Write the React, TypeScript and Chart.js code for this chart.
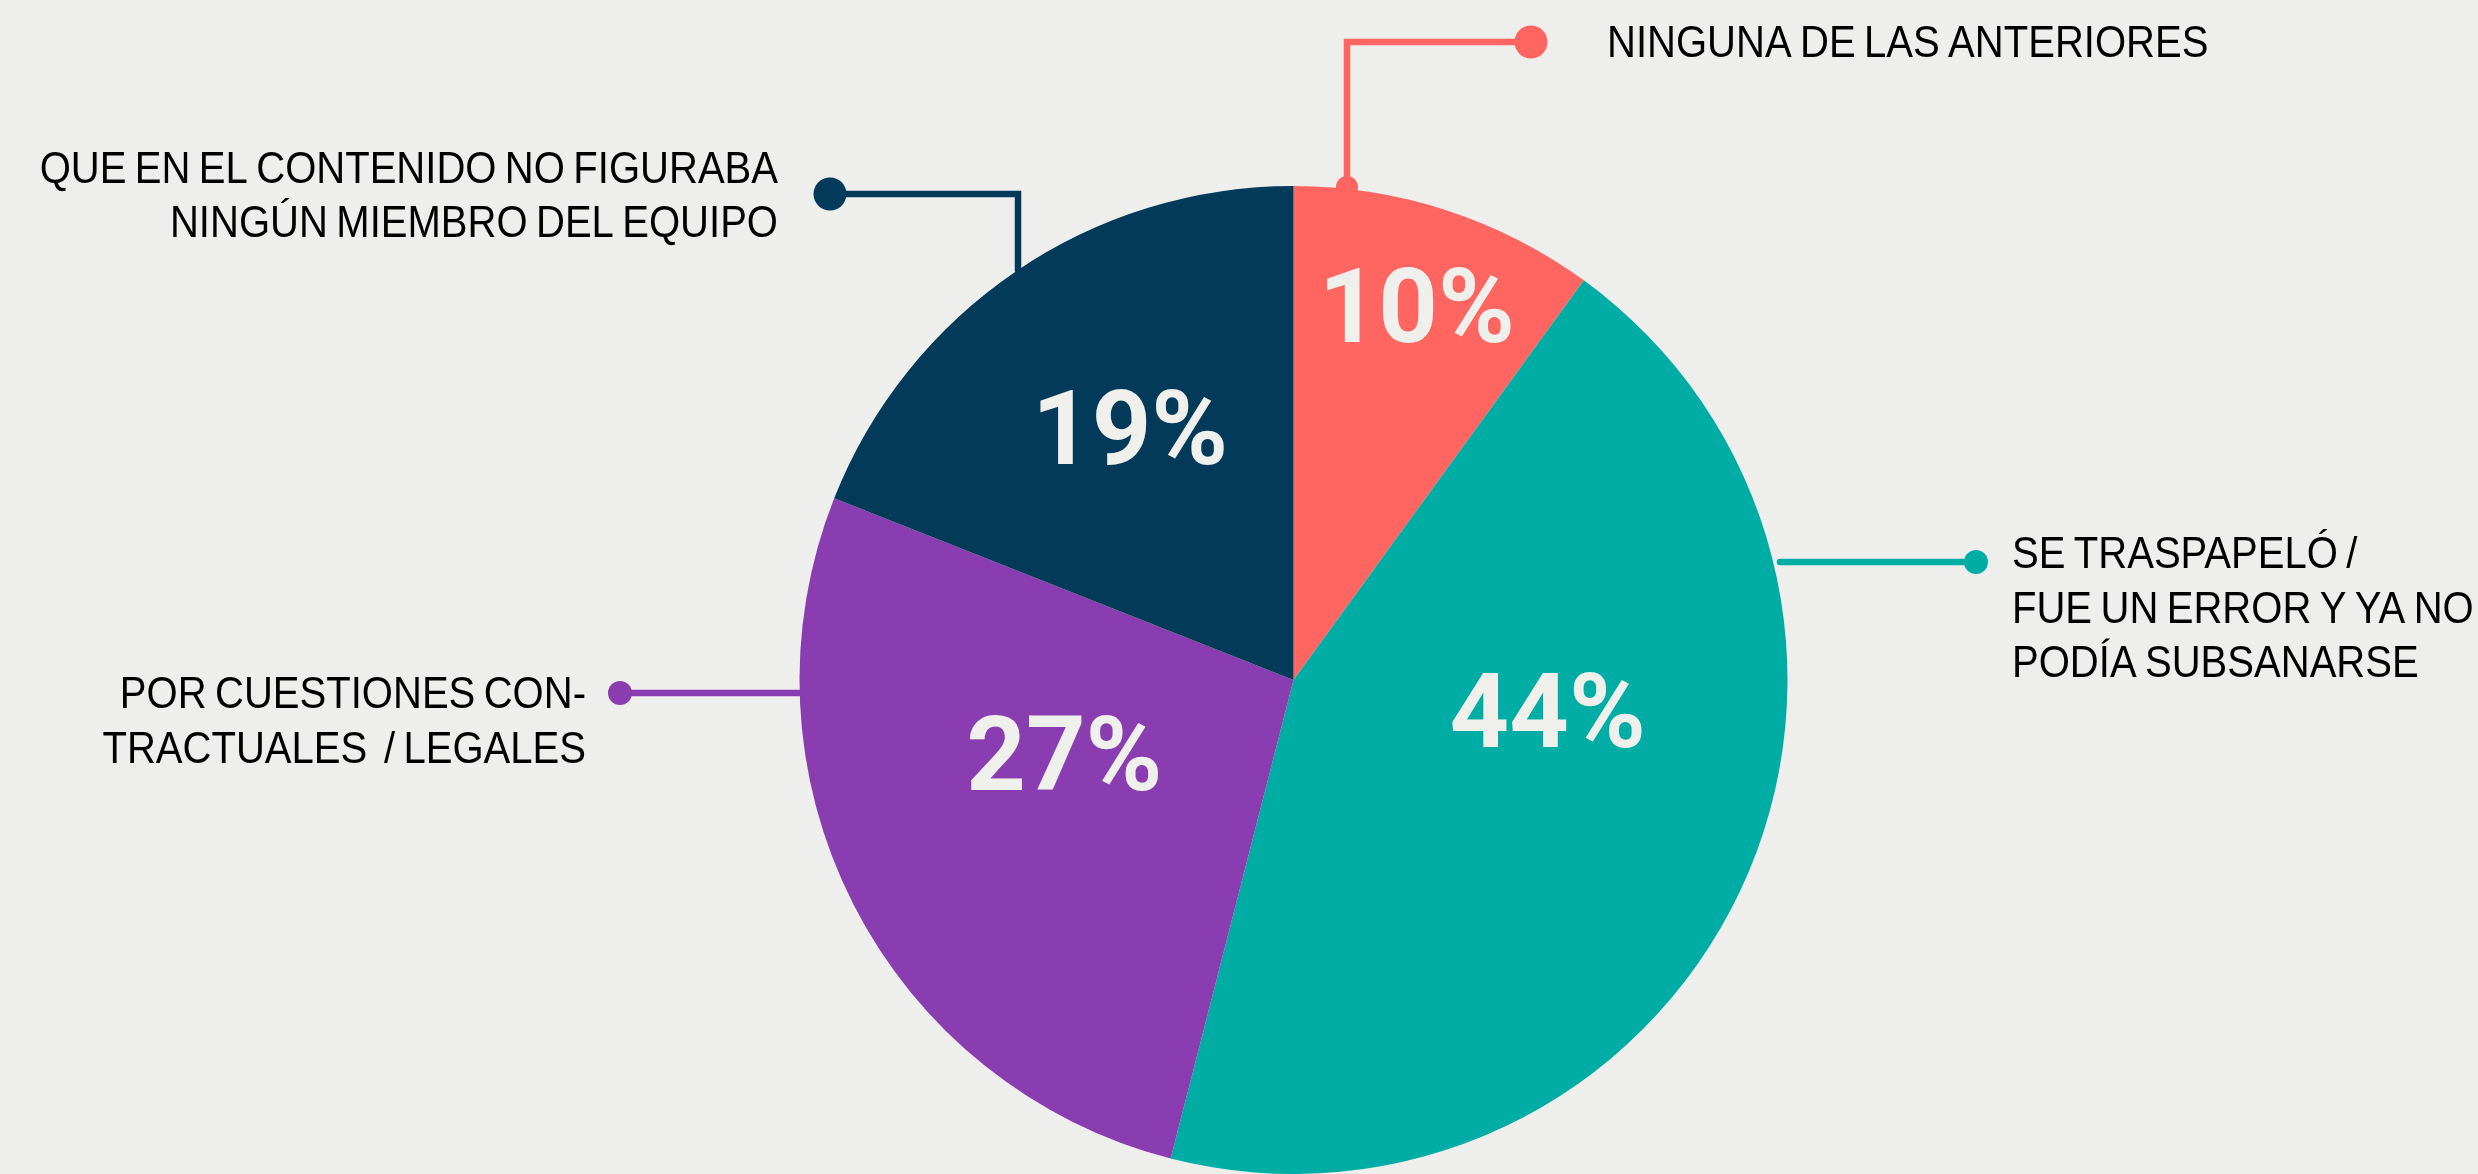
import React, { useEffect, useRef } from "react";
import { Chart, registerables } from "chart.js";

Chart.register(...registerables);

// ---- data ----
const categories = [
  "NINGUNA DE LAS ANTERIORES",
  "SE TRASPAPELÓ / FUE UN ERROR Y YA NO PODÍA SUBSANARSE",
  "POR CUESTIONES CONTRACTUALES / LEGALES",
  "QUE EN EL CONTENIDO NO FIGURABA NINGÚN MIEMBRO DEL EQUIPO",
];
const values = [10, 44, 27, 19];
const labelLines = [
  ["NINGUNA DE LAS ANTERIORES"],
  ["SE TRASPAPELÓ /", "FUE UN ERROR Y YA NO", "PODÍA SUBSANARSE"],
  ["POR CUESTIONES CON-", "TRACTUALES  / LEGALES"],
  ["QUE EN EL CONTENIDO NO FIGURABA", "NINGÚN MIEMBRO DEL EQUIPO"],
];
const colors = ["#FF6661", "#00ADA5", "#8A3DB0", "#033A5A"];

// ---- layout (styles/positions, not data) ----
const BG = "#EEEEEC";
const PCT_COLOR = "#EFEFEC";
// where inside each slice the percentage sits: fraction of slice angle, fraction of radius
const pctAngleFrac = [0.505, 0.383, 0.595, 0.52];
const pctRadiusFrac = [0.8, 0.518, 0.487, 0.61];

// leader lines & outside label placement, in canvas pixels
const leaders = [
  { pts: [[1347, 187], [1347, 42], [1531, 42]], startDot: 11, endDot: 16.5, textX: 1607, align: "left", baselines: [57] },
  { pts: [[1780, 562], [1976, 562]], startDot: 0, endDot: 12, textX: 2012, align: "left", baselines: [568, 623, 677] },
  { pts: [[799, 693], [620, 693]], startDot: 0, endDot: 12, textX: 586, align: "right", baselines: [708, 763] },
  { pts: [[1018, 270], [1018, 194], [830, 194]], startDot: 0, endDot: 16.5, textX: 778, align: "right", baselines: [183, 237] },
];

const annotationPlugin = {
  id: "annotations",
  afterDraw(chart: any) {
    const ctx = chart.ctx as CanvasRenderingContext2D;
    const meta = chart.getDatasetMeta(0);
    const ds = chart.data.datasets[0];

    // percentage labels inside slices
    ctx.save();
    ctx.fillStyle = PCT_COLOR;
    ctx.font = "bold 104px Roboto, 'Liberation Sans', sans-serif";
    ctx.textAlign = "center";
    ctx.textBaseline = "alphabetic";
    meta.data.forEach((arc: any, i: number) => {
      const a = arc.startAngle + pctAngleFrac[i] * (arc.endAngle - arc.startAngle);
      const r = arc.outerRadius * pctRadiusFrac[i];
      const x = arc.x + Math.cos(a) * r;
      const y = arc.y + Math.sin(a) * r;
      ctx.fillText(`${ds.data[i]}%`, x, y + 37);
    });
    ctx.restore();

    // leader lines + outside labels
    leaders.forEach((ld, i) => {
      const col = colors[i];
      ctx.save();
      ctx.strokeStyle = col;
      ctx.fillStyle = col;
      ctx.lineWidth = 6.5;
      ctx.lineCap = "round";
      ctx.lineJoin = "miter";
      ctx.beginPath();
      ld.pts.forEach((p, k) => (k === 0 ? ctx.moveTo(p[0], p[1]) : ctx.lineTo(p[0], p[1])));
      ctx.stroke();
      if (ld.startDot > 0) {
        ctx.beginPath();
        ctx.arc(ld.pts[0][0], ld.pts[0][1], ld.startDot, 0, Math.PI * 2);
        ctx.fill();
      }
      const e = ld.pts[ld.pts.length - 1];
      ctx.beginPath();
      ctx.arc(e[0], e[1], ld.endDot, 0, Math.PI * 2);
      ctx.fill();
      ctx.restore();

      ctx.save();
      ctx.fillStyle = "#000000";
      ctx.font = "44px 'Liberation Sans', Arial, sans-serif";
      (ctx as any).wordSpacing = "-3px";
      ctx.textBaseline = "alphabetic";
      ctx.textAlign = ld.align as CanvasTextAlign;
      const sx = 0.91;
      labelLines[i].forEach((line, k) => {
        ctx.save();
        ctx.translate(ld.textX, ld.baselines[k]);
        ctx.scale(sx, 1);
        ctx.fillText(line, 0, 0);
        ctx.restore();
      });
      ctx.restore();
    });
  },
};

export default function App() {
  const ref = useRef<HTMLCanvasElement | null>(null);
  useEffect(() => {
    document.body.style.margin = "0";
    document.body.style.background = BG;
    const canvas = ref.current!;
    const chart = new Chart(canvas, {
      type: "pie",
      data: {
        labels: categories,
        datasets: [
          {
            data: values,
            backgroundColor: colors,
            borderWidth: 0,
            hoverOffset: 0,
          },
        ],
      },
      options: {
        responsive: false,
        animation: false,
        events: [],
        layout: { padding: { left: 799, right: 690, top: 186, bottom: 0 } },
        plugins: {
          legend: { display: false },
          tooltip: { enabled: false },
        },
      },
      plugins: [annotationPlugin],
    });
    return () => chart.destroy();
  }, []);
  return (
    <div style={{ width: 2478, height: 1174, background: BG, overflow: "hidden" }}>
      <canvas ref={ref} width={2478} height={1174} style={{ display: "block", width: 2478, height: 1174 }} />
    </div>
  );
}
